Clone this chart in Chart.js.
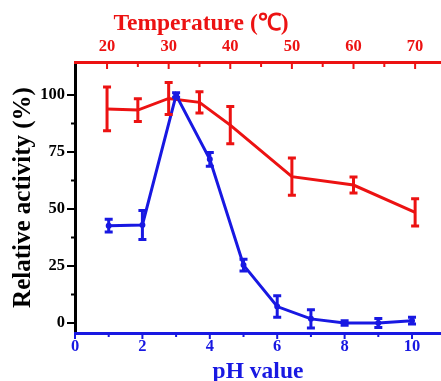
<!DOCTYPE html>
<html>
<head>
<meta charset="utf-8">
<script src="https://cdn.jsdelivr.net/npm/chart.js@4/dist/chart.umd.min.js"></script>
<style>body{margin:0;background:#fff;overflow:hidden}</style>
</head>
<body>
<canvas id="grafico" width="441" height="381"></canvas>
<script>
const red = 'rgb(236,18,18)'
const blue = 'rgb(24,24,226)'
const serif = 'Liberation Serif'

// pH series (bottom axis)
const phValues = [1, 2, 3, 4, 5, 6, 7, 8, 9, 10]
const phActivity = [42.7, 43, 100, 71.8, 25.4, 7.2, 1.8, 0, 0, 1]
const phError = [2.8, 6.4, 1, 3, 2.6, 4.7, 4, 1, 2, 1.5]

// temperature series (top axis)
const temperatures = [20, 25, 30, 35, 40, 50, 60, 70]
const tempActivity = [93.9, 93.4, 98.5, 96.8, 86.8, 64.2, 60.5, 48.5]
const tempError = [9.6, 5, 7, 4.7, 8.2, 8.2, 3.5, 6]

// ticks
const yMajor = [0, 25, 50, 75, 100]
const yMinor = [12.5, 37.5, 62.5, 87.5]
const phMajor = [0, 2, 4, 6, 8, 10]
const phMinor = [1, 3, 5, 7, 9]
const tempMajor = [20, 30, 40, 50, 60, 70]
const tempMinor = [25, 35, 45, 55, 65]

const errors = [phError, tempError]

const tickFont = { family: serif, weight: 'bold', size: 16.5 }
const titleFont = { family: serif, weight: 'bold', size: 23.5 }

// error bars
const errorBars = {
  id: 'errorBars',
  afterDatasetsDraw(chart) {
    const c = chart.ctx
    const y = chart.scales.y
    chart.data.datasets.forEach((ds, i) => {
      const meta = chart.getDatasetMeta(i)
      c.save()
      c.strokeStyle = ds.borderColor
      c.lineWidth = 3
      meta.data.forEach((pt, j) => {
        const v = ds.data[j].y, e = errors[i][j]
        const y1 = y.getPixelForValue(v + e), y2 = y.getPixelForValue(v - e)
        c.beginPath()
        c.moveTo(pt.x, y1); c.lineTo(pt.x, y2)
        c.moveTo(pt.x - 4, y1); c.lineTo(pt.x + 4, y1)
        c.moveTo(pt.x - 4, y2); c.lineTo(pt.x + 4, y2)
        c.stroke()
      })
      c.restore()
    })
  }
}

// tick marks (major + minor), top axis points inward
const tickMarks = {
  id: 'tickMarks',
  afterDraw(chart) {
    const c = chart.ctx, a = chart.chartArea
    const draw = (scale, values, len, color, side) => {
      c.save()
      c.strokeStyle = color
      c.lineWidth = 2
      c.beginPath()
      values.forEach(v => {
        const p = scale.getPixelForValue(v)
        if (side == 'left') { c.moveTo(a.left, p); c.lineTo(a.left - len, p) }
        if (side == 'bottom') { c.moveTo(p, a.bottom); c.lineTo(p, a.bottom + len) }
        if (side == 'top') { c.moveTo(p, a.top); c.lineTo(p, a.top + len) }
      })
      c.stroke()
      c.restore()
    }
    draw(chart.scales.y, yMajor, 8, 'black', 'left')
    draw(chart.scales.y, yMinor, 4, 'black', 'left')
    draw(chart.scales.x, phMajor, 6, blue, 'bottom')
    draw(chart.scales.x, phMinor, 4, blue, 'bottom')
    draw(chart.scales.x2, tempMajor, 7, red, 'top')
    draw(chart.scales.x2, tempMinor, 5, red, 'top')

    // top axis title, sits left of centre as in the original
    c.save()
    c.font = 'bold 23.5px "Liberation Serif"'
    c.fillStyle = red
    c.textAlign = 'center'
    c.textBaseline = 'middle'
    c.fillText('Temperature (℃)', a.left + 126, 24)
    c.restore()
  }
}

const chart = new Chart(document.getElementById('grafico'), {
  type: 'line',
  data: {
    datasets: [{
      data: phValues.map((x, i) => ({ x, y: phActivity[i] })),
      xAxisID: 'x',
      yAxisID: 'y',
      borderColor: blue,
      backgroundColor: blue,
      borderWidth: 3,
      pointRadius: 1.5
    }, {
      data: temperatures.map((x, i) => ({ x, y: tempActivity[i] })),
      xAxisID: 'x2',
      yAxisID: 'y',
      borderColor: red,
      backgroundColor: red,
      borderWidth: 3,
      pointRadius: 0
    }]
  },
  options: {
    responsive: false,
    animation: false,
    layout: { padding: 0, autoPadding: false },
    plugins: { legend: { display: false }, tooltip: { enabled: false } },
    scales: {
      y: {
        min: -4.4, max: 114.5,
        afterBuildTicks: s => { s.ticks = yMajor.map(value => ({ value })) },
        afterFit: s => { s.width = 75 },
        grid: { display: false, drawTicks: false },
        border: { display: true, color: 'black', width: 3 },
        ticks: { color: 'black', font: tickFont, padding: 10 },
        title: { display: true, text: 'Relative activity (%)', color: 'black', font: { family: serif, weight: 'bold', size: 25 }, padding: { top: 9 } }
      },
      x: {
        type: 'linear', position: 'bottom',
        min: 0, max: 10.86,
        afterBuildTicks: s => { s.ticks = phMajor.map(value => ({ value })) },
        afterFit: s => { s.height = 48 },
        grid: { display: false, drawTicks: false },
        border: { display: true, color: blue, width: 3 },
        ticks: { color: blue, font: tickFont, padding: 4, maxRotation: 0, autoSkip: false },
        title: { display: true, text: 'pH value', color: blue, font: titleFont, padding: { top: 0, bottom: -5 } }
      },
      x2: {
        type: 'linear', position: 'top',
        min: 14.8, max: 74.2,
        afterBuildTicks: s => { s.ticks = tempMajor.map(value => ({ value })) },
        afterFit: s => { s.height = 62 },
        grid: { display: false, drawTicks: false },
        border: { display: true, color: red, width: 3 },
        ticks: { color: red, font: tickFont, padding: 5, maxRotation: 0, autoSkip: false }
      }
    }
  },
  plugins: [errorBars, tickMarks]
})
</script>
</body>
</html>
